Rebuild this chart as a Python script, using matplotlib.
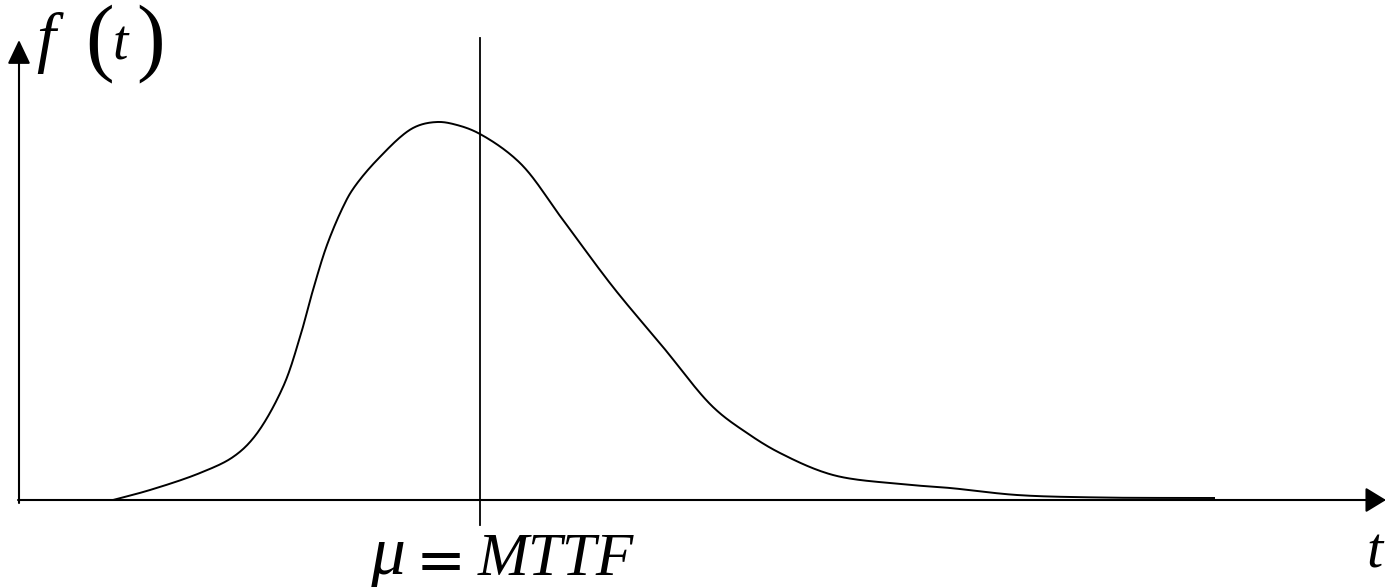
import numpy as np
import matplotlib
matplotlib.use("Agg")
import matplotlib.pyplot as plt
from matplotlib.patches import FancyArrowPatch

# Failure density f(t): sampled points of the curve (arbitrary time units)
t_vals = [0.94, 1.31, 1.81, 2.14, 2.36, 2.64, 2.81, 2.94, 3.08, 3.24,
          3.34, 3.58, 3.94, 4.18, 4.38, 4.61, 5.01, 5.44, 5.94, 6.44,
          6.94, 7.28, 7.61, 8.14, 8.81, 9.31, 9.98, 10.81, 11.96]
f_vals = [0.00, 0.10, 0.27, 0.43, 0.64, 1.13, 1.63, 2.10, 2.55, 2.93,
          3.11, 3.40, 3.72, 3.78, 3.75, 3.66, 3.37, 2.80, 2.13, 1.53,
          0.93, 0.67, 0.47, 0.25, 0.16, 0.12, 0.05, 0.025, 0.02]
mttf = 4.61  # mean time to failure

W, H = 1386, 587


def centripetal_spline(x, y, n=24, alpha=0.5):
    """Centripetal Catmull-Rom curve through the given points."""
    p = np.column_stack([x, y]).astype(float)
    p = np.vstack([2 * p[0] - p[1], p, 2 * p[-1] - p[-2]])
    out = []
    for i in range(1, len(p) - 2):
        P0, P1, P2, P3 = p[i - 1], p[i], p[i + 1], p[i + 2]
        t0 = 0.0
        t1 = t0 + np.linalg.norm(P1 - P0) ** alpha
        t2 = t1 + np.linalg.norm(P2 - P1) ** alpha
        t3 = t2 + np.linalg.norm(P3 - P2) ** alpha
        tt = np.linspace(t1, t2, n, endpoint=False)[:, None]
        A1 = (t1 - tt) / (t1 - t0) * P0 + (tt - t0) / (t1 - t0) * P1
        A2 = (t2 - tt) / (t2 - t1) * P1 + (tt - t1) / (t2 - t1) * P2
        A3 = (t3 - tt) / (t3 - t2) * P2 + (tt - t2) / (t3 - t2) * P3
        B1 = (t2 - tt) / (t2 - t0) * A1 + (tt - t0) / (t2 - t0) * A2
        B2 = (t3 - tt) / (t3 - t1) * A2 + (tt - t1) / (t3 - t1) * A3
        C = (t2 - tt) / (t2 - t1) * B1 + (tt - t1) / (t2 - t1) * B2
        out.append(C)
    out.append(p[-2][None, :])
    out = np.vstack(out)
    return out[:, 0], out[:, 1]


fig = plt.figure(figsize=(W / 100, H / 100), dpi=100)
ax = fig.add_axes([0, 0, 1, 1])
ax.set_xlim(-0.19, 13.67)
ax.set_ylim(-0.87, 5.0)
ax.axis("off")

# Coordinate axes with arrow heads
ax.add_patch(FancyArrowPatch((-0.01, 0.0), (13.67, 0.0),
                             arrowstyle="-|>,head_length=0.9,head_width=0.55",
                             mutation_scale=14, lw=1.5, color="black",
                             shrinkA=0, shrinkB=0))
ax.add_patch(FancyArrowPatch((0.0, -0.03), (0.0, 4.60),
                             arrowstyle="-|>,head_length=1.05,head_width=0.5",
                             mutation_scale=14, lw=1.5, color="black",
                             shrinkA=0, shrinkB=0))

# Density curve
xs, ys = centripetal_spline(t_vals, f_vals)
ax.plot(xs, ys, color="black", lw=1.4, solid_capstyle="butt",
        solid_joinstyle="round")

# Vertical line at the mean
ax.plot([mttf, mttf], [-0.25, 4.62], color="black", lw=1.3)

serif = ["Liberation Serif", "DejaVu Serif"]


def ftext(x, y, s, size, style="italic", family=None, **kw):
    fig.text(x / W, 1 - y / H, s, fontsize=size, family=family or serif,
             style=style, va="baseline", ha="left", **kw)


# Axis label f(t)
ftext(36, 60, "f", 49)
ftext(85, 64, "(", 62, style="normal")
ftext(113, 60, "t", 40)
ftext(136, 64, ")", 62, style="normal")

# Mean label and time axis label
ftext(370, 574, "\u03bc", 50)
ftext(416, 580, "=", 43, style="normal", family=["DejaVu Serif"])
ftext(478, 575, "MTTF", 44)
ftext(1366, 568, "t", 42)

fig.savefig("out.png", dpi=100)
